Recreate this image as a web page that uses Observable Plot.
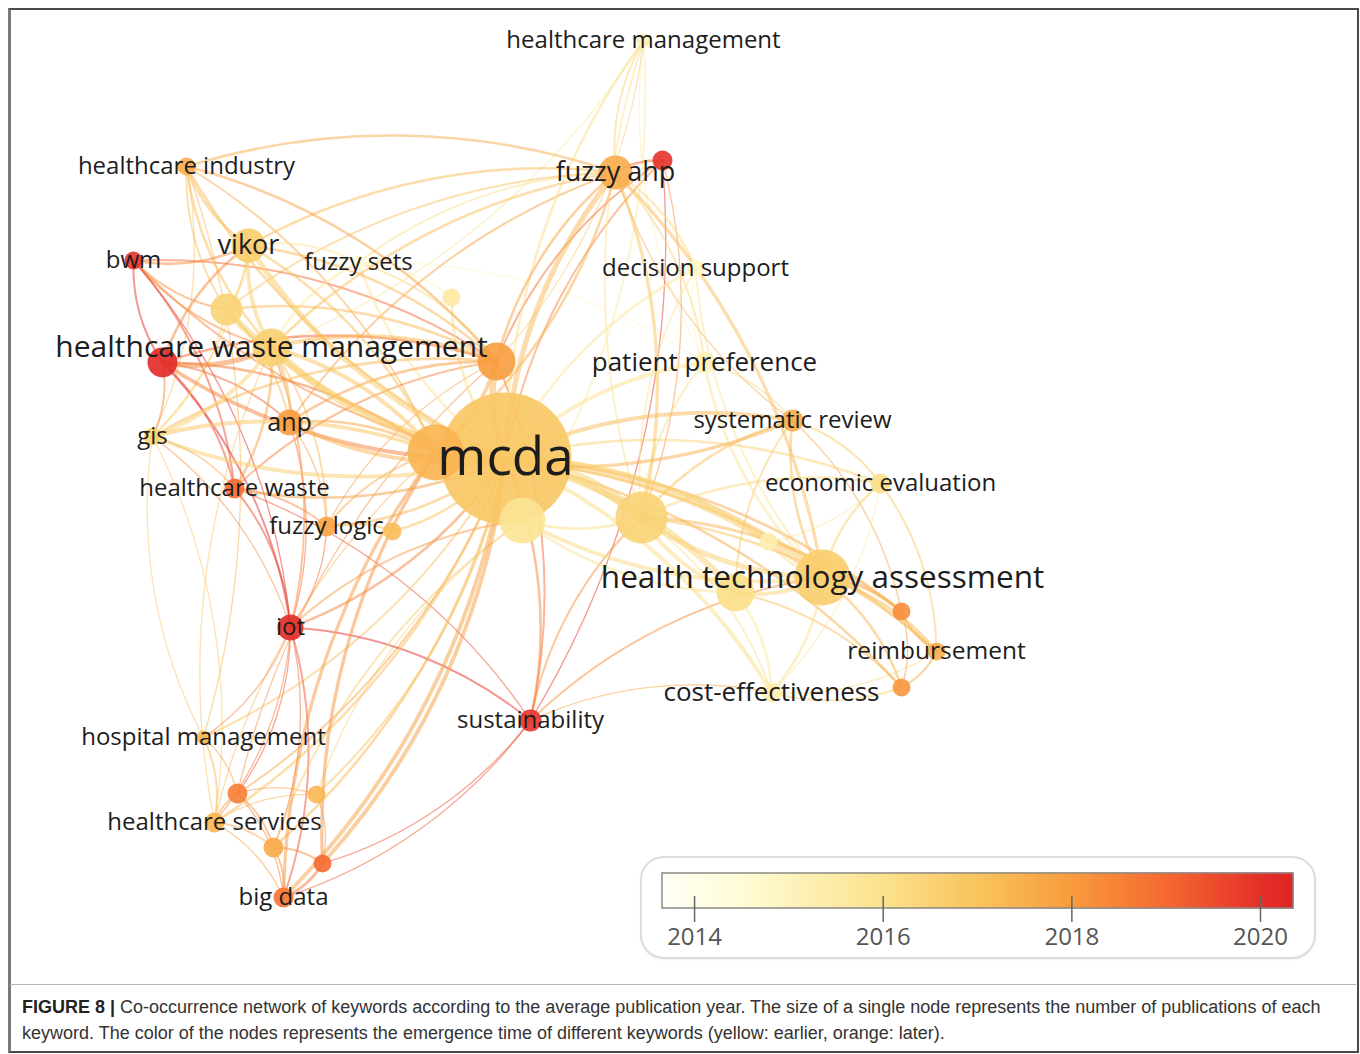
<!DOCTYPE html>
<html>
<head>
<meta charset="utf-8">
<script src="https://cdn.jsdelivr.net/npm/d3@7"></script>
<script src="https://cdn.jsdelivr.net/npm/@observablehq/plot@0.6"></script>
<style>
  html, body { margin: 0; padding: 0; background: #fff; }
  body { width: 1360px; height: 1054px; position: relative; overflow: hidden; }
  #chart { position: absolute; left: 0; top: 0; }
  #frame { position: absolute; left: 8px; top: 8px; width: 1346px; height: 1041px;
           border: 2px solid #4a4a4a; border-left: 3px solid #7a7a7a; z-index: 3; pointer-events: none; }
  #sep { position: absolute; left: 10px; top: 984px; width: 1346px; height: 1px; background: #b5b5b5; z-index: 3; }
  #legendbox { position: absolute; left: 640px; top: 856px; width: 672px; height: 99px;
               border: 2px solid #dcdcdc; border-radius: 24px; background: #fff; z-index: 2;
               box-shadow: 0 1px 2px rgba(0,0,0,0.06); }
  #legend { position: absolute; left: 638px; top: 855px; z-index: 2; }
  #caption { position: absolute; left: 22px; top: 994px; width: 1330px; z-index: 3;
             font-family: "Liberation Sans", Arial, sans-serif; font-size: 18px; line-height: 26px; color: #333; white-space: nowrap; }
  #caption b { color: #222; }
</style>
</head>
<body>
<div id="chart"></div>
<div id="legendbox"></div>
<div id="legend"></div>
<div id="frame"></div>
<div id="sep"></div>
<div id="caption"><b>FIGURE 8 |</b> Co-occurrence network of keywords according to the average publication year. The size of a single node represents the number of publications of each<br>keyword. The color of the nodes represents the emergence time of different keywords (yellow: earlier, orange: later).</div>
<script>
// ---------- DATA ----------
const nodeIds   = ["mcda","m2","m3","m4","hwm","hwmr","o1","vik","v2","bwm","hci","fs","fs2","hcm","ahp","ahpr","ds","pp","sr","ee","hta","hta2","hta3","reim","re1","re2","ce","sus","iot","hm","hs","bd","gis","anp","hcw","fl","fl2","h1","h2","h3","h4"];
const nodeX     = [505,435,522,641,271,162,496,248,226,133,186,358,451,643,615,662,695,704,792,880,822,735,768,936,901,901,771,530,290,203,214,283,152,289,234,326,392,237,316,273,322];
const nodeY     = [458,452,520,517,347,362,361,245,309,260,166,262,297,40,172,160,268,362,420,483,577,592,541,651,611,687,692,720,627,737,822,897,436,422,488,526,531,793,794,847,863];
const nodeR     = [66,28,23,26,19,15,19,17,16,9,9,7,9,7,17,10,9,11,11,10,28,19,9,9,9,9,10,11,13,7,10,10,9,13,10,10,9,10,9,10,9];
const nodeYear  = [2016.9,2017.4,2015.9,2016.5,2016.6,2020.2,2018.0,2016.7,2016.5,2020.0,2017.6,2014.6,2015.6,2015.3,2017.6,2020.0,2014.8,2015.1,2017.6,2016.1,2016.7,2016.1,2015.3,2017.6,2018.3,2018.1,2015.3,2020.0,2020.2,2017.3,2017.3,2018.8,2016.5,2018.0,2019.0,2017.8,2017.2,2018.6,2017.3,2017.7,2019.0];
const nodeLabel = ["mcda","","","","healthcare waste management","","","vikor","","bwm","healthcare industry","fuzzy sets","","healthcare management","fuzzy ahp","","decision support","patient preference","systematic review","economic evaluation","health technology assessment","","","reimbursement","","","cost-effectiveness","sustainability","iot","hospital management","healthcare services","big data","gis","anp","healthcare waste","fuzzy logic","","","","",""];
const labelSize = [53,0,0,0,30,0,0,27,0,24,24,24,0,24,27,0,24,26,24,24,31.5,0,0,24.5,0,0,26,24,24,24,24,24,24,25,24,24,0,0,0,0,0];

// links: [from, to, strength]
const links = [
 ["mcda","m2",8],["mcda","m3",6],["mcda","m4",8],["mcda","hwm",6],["mcda","hwmr",3],["mcda","o1",5],["mcda","vik",4],["mcda","v2",4],
 ["mcda","bwm",1.5],["mcda","hci",2],["mcda","fs",2],["mcda","fs2",2],["mcda","hcm",2],["mcda","ahp",4],["mcda","ahpr",1.5],["mcda","ds",2],
 ["mcda","pp",3],["mcda","sr",3],["mcda","ee",2],["mcda","hta",7],["mcda","hta2",5],["mcda","hta3",3],["mcda","reim",2],["mcda","re1",2],
 ["mcda","re2",2],["mcda","ce",3],["mcda","sus",2],["mcda","iot",2],["mcda","hm",1.5],["mcda","hs",2],["mcda","bd",3],["mcda","gis",3],
 ["mcda","anp",3],["mcda","hcw",2],["mcda","fl",2],["mcda","fl2",2],["mcda","h1",1.5],["mcda","h2",1.5],["mcda","h3",2],["mcda","h4",3],
 ["hwm","hwmr",4],["hwm","vik",3],["hwm","v2",3],["hwm","bwm",1.5],["hwm","gis",3],["hwm","anp",2],["hwm","hcw",2],["hwm","o1",3],
 ["hwm","m2",3],["hwm","fl",1.5],["hwm","iot",1.5],["hwm","hci",2],["hwm","fs",2],["hwm","ahp",2],
 ["hwmr","bwm",1.5],["hwmr","vik",2],["hwmr","iot",1.5],["hwmr","hcw",1.5],["hwmr","gis",1.5],["hwmr","o1",2],["hwmr","anp",1.5],["hwmr","m2",2],
 ["vik","bwm",2],["vik","hci",2],["vik","v2",2],["vik","fs",2],["vik","ahp",2],["vik","o1",2],["vik","m2",2],["vik","gis",1],
 ["v2","bwm",1.5],["v2","gis",1.5],["v2","anp",1.5],["v2","o1",2],["v2","ahp",1.5],["v2","hci",1.5],
 ["bwm","hcw",1.5],["bwm","o1",1.5],["bwm","iot",1],
 ["hci","ahp",2],["hci","o1",2],["hci","m2",1.5],["hci","hm",1],["hci","gis",1],
 ["fs","ahp",1.5],["fs","o1",1.5],["fs","fs2",1],["fs","pp",1],
 ["gis","o1",2],["gis","m2",3],["gis","hcw",1],["gis","hs",1],["gis","iot",1],
 ["anp","o1",2],["anp","ahp",1.5],["anp","m2",2],["anp","fl",1],["anp","iot",1],
 ["hcw","iot",1.5],["hcw","fl",1.5],["hcw","o1",1.5],["hcw","sus",1],
 ["fl","fl2",1.5],["fl","iot",1],["fl","o1",1],["fl","m2",1.5],
 ["o1","ahp",2],["o1","ahpr",1.5],["o1","m2",3],["o1","sus",1.5],
 ["ahp","ahpr",2],["ahp","ds",2],["ahp","m4",2.5],["ahp","hta",2.5],["ahp","hcm",1.5],["ahp","pp",1.5],["ahp","m2",2],
 ["ahpr","sus",1],["ahpr","m4",1],
 ["iot","sus",1.5],["iot","hs",1],["iot","hm",1],["iot","bd",1.5],["iot","h1",1],["iot","h3",1],["iot","m3",1.5],
 ["sus","hta",1.5],["sus","ce",1],["sus","m4",1.5],["sus","bd",1],["sus","h4",1],
 ["hta","hta2",3],["hta","hta3",2],["hta","m4",4],["hta","sr",2],["hta","ee",2],["hta","reim",2.5],["hta","re1",2.5],["hta","re2",2],
 ["hta","ce",2],["hta","pp",2],["hta","ds",1.5],["hta","m3",3],
 ["hta2","m4",3],["hta2","ce",2],["hta2","re2",1.5],["hta2","m3",2],["hta2","sr",1.5],
 ["m4","sr",2],["m4","ee",2],["m4","pp",2],["m4","ds",1.5],["m4","hcm",1.5],["m4","reim",2],["m4","re1",2.5],["m4","ce",1.5],["m4","m3",2],
 ["sr","ee",1.5],["sr","re1",1],["sr","m2",2.5],["sr","ahp",1],
 ["ee","reim",1.5],["ee","ce",1],["ee","hta3",1],
 ["reim","re1",1.5],["reim","re2",1.5],["re1","re2",1],["re2","ce",1.5],["reim","ce",1],
 ["pp","ds",1],["pp","hcm",1],["pp","sr",1],
 ["hcm","m3",1.5],["hcm","o1",1],["hcm","hwm",1],
 ["hm","hs",1.5],["hm","h1",1],["hm","gis",1],["hs","h1",1.5],["hs","h3",1.5],["hs","bd",1],["hs","h2",1],["h1","h2",1],
 ["h1","h3",1.5],["h3","h4",1.5],["h3","bd",1.5],["h4","bd",2],["h2","h4",1],["h1","bd",1],["hs","m2",1],["h1","o1",1],
 ["h2","m3",1],["h4","m2",2.5],["bd","m2",2.5],["h3","m3",1.5],["hs","hwm",1]
];

// colour-bar stops and ticks
const yearStops  = [2013.66, 2014.5, 2016, 2017, 2018, 2019, 2020, 2020.35];
const stopColors = ["#fffff6", "#fffcd6", "#fbe28e", "#f9c45e", "#f89c3e", "#f56a32", "#e5322a", "#e02424"];
const legendTicks = [2014, 2016, 2018, 2020];

// ---------- BUILD ----------
const nodes = nodeIds.map((id, i) => ({id, x: nodeX[i], y: nodeY[i], r: nodeR[i], year: nodeYear[i], label: nodeLabel[i], size: labelSize[i]}));
const byId = new Map(nodes.map(d => [d.id, d]));
const edges = links.map(([a, b, w]) => {
  const s = byId.get(a), t = byId.get(b);
  return {x1: s.x, y1: s.y, x2: t.x, y2: t.y, w: w * 1.3, year: (s.year + t.year) / 2};
}).sort((a, b) => a.w - b.w);

const colorScale = {type: "linear", domain: yearStops, range: stopColors, clamp: true};

const W = 1360, H = 984;
const chart = Plot.plot({
  width: W, height: H,
  margin: 0,
  style: {background: "transparent", fontFamily: "'Open Sans', sans-serif"},
  x: {domain: [0, W], range: [0, W], axis: null},
  y: {domain: [0, H], range: [0, H], axis: null},
  r: {type: "identity"},
  color: colorScale,
  marks: [
    Plot.arrow(edges, {x1: "x1", y1: "y1", x2: "x2", y2: "y2", bend: 18, headLength: 0,
      stroke: "year", strokeWidth: "w", strokeOpacity: 0.5, strokeLinecap: "round"}),
    Plot.dot(nodes, {x: "x", y: "y", r: "r", fill: "year", fillOpacity: 0.9, stroke: "none"}),
    Plot.text(nodes.filter(d => d.label), {x: "x", y: "y", text: "label", fontSize: "size",
      fill: "#1d1d1d", fontFamily: "'Open Sans', sans-serif", textAnchor: "middle", lineAnchor: "middle"})
  ]
});
document.getElementById("chart").append(chart);

// ---------- LEGEND ----------
const gradSteps = d3.range(yearStops[0], yearStops[yearStops.length - 1], 0.01);
const legend = Plot.plot({
  width: 680, height: 105, margin: 0,
  style: {background: "transparent", fontFamily: "'Open Sans', sans-serif"},
  x: {domain: [yearStops[0], yearStops[yearStops.length - 1]], range: [24, 655], axis: null},
  y: {domain: [0, 105], range: [0, 105], axis: null},
  color: colorScale,
  marks: [
    Plot.rect(gradSteps, {x1: d => d, x2: d => Math.min(d + 0.02, yearStops[yearStops.length - 1]), y1: 18, y2: 53,
      fill: d => d, stroke: d => d, strokeWidth: 0.6}),
    Plot.rect([0], {x1: yearStops[0], x2: yearStops[yearStops.length - 1], y1: 18, y2: 53, fill: "none", stroke: "#8a8a8a", strokeWidth: 1.5}),
    Plot.ruleX(legendTicks, {x: d => d, y1: 41, y2: 67, stroke: "#666", strokeWidth: 1.5}),
    Plot.text(legendTicks, {x: d => d, y: 82, text: d => String(d), fontSize: 24, fill: "#555", fontFamily: "'Open Sans', sans-serif"})
  ]
});
document.getElementById("legend").append(legend);
</script>
</body>
</html>
